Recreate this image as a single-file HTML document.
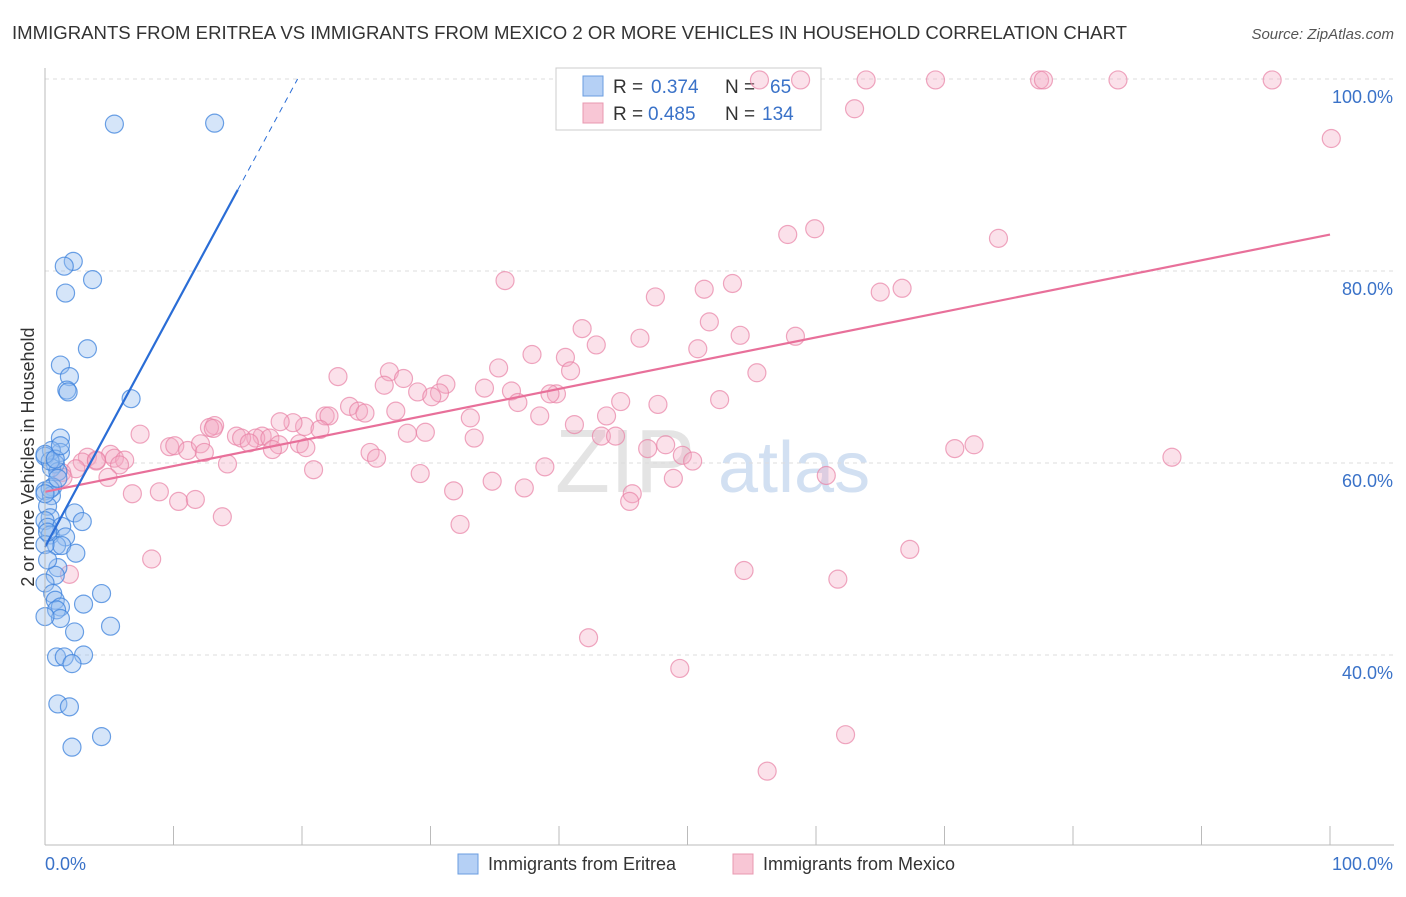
<!DOCTYPE html>
<html><head><meta charset="utf-8"><style>
body{margin:0;background:#fff;font-family:"Liberation Sans",sans-serif;}
svg text{font-family:"Liberation Sans",sans-serif;}
</style></head><body>
<svg id="chart" width="1406" height="892">
<text x="12" y="39" font-size="18.6" fill="#333" textLength="1115" lengthAdjust="spacingAndGlyphs">IMMIGRANTS FROM ERITREA VS IMMIGRANTS FROM MEXICO 2 OR MORE VEHICLES IN HOUSEHOLD CORRELATION CHART</text>
<text x="1394" y="39" font-size="15" fill="#555" font-style="italic" text-anchor="end">Source: ZipAtlas.com</text>
<text x="34" y="457" font-size="18" fill="#333" text-anchor="middle" transform="rotate(-90 34 457)">2 or more Vehicles in Household</text>
<text x="555" y="492" font-size="90" fill="#e4e4e4" font-family="Liberation Serif">ZIP</text>
<text x="718" y="492" font-size="72" fill="#d2e0f2">atlas</text>
<g id="grid"></g>
<g>
<rect x="556" y="68" width="265" height="62" fill="#fff" stroke="#ccc"/>
<rect x="583" y="76" width="20" height="20" fill="#b5d0f5" stroke="#6a9de0"/>
<rect x="583" y="103" width="20" height="20" fill="#f8c6d5" stroke="#e898b0"/>
<text x="613" y="93" font-size="19" fill="#333">R =</text><text x="651" y="93" font-size="19" fill="#3a72c8">0.374</text>
<text x="725" y="93" font-size="19" fill="#333">N =</text><text x="770" y="93" font-size="19" fill="#3a72c8">65</text>
<text x="613" y="120" font-size="19" fill="#333">R =</text><text x="648" y="120" font-size="19" fill="#3a72c8">0.485</text>
<text x="725" y="120" font-size="19" fill="#333">N =</text><text x="762" y="120" font-size="19" fill="#3a72c8">134</text>
</g>
<g id="pts"></g><g id="lines"></g><g id="axes"></g>
<g>
<rect x="458" y="854" width="20" height="20" fill="#b5d0f5" stroke="#6a9de0"/>
<text x="488" y="870" font-size="18" fill="#333">Immigrants from Eritrea</text>
<rect x="733" y="854" width="20" height="20" fill="#f8c6d5" stroke="#e898b0"/>
<text x="763" y="870" font-size="18" fill="#333">Immigrants from Mexico</text>
</g>
</svg>
<script>
const yTicks=[40,60,80,100];
const yTickLabels=["40.0%","60.0%","80.0%","100.0%"];
const xTickLabels=["0.0%","100.0%"];
const eritreaX=[5.4,13.2,2.2,1.5,1.6,3.7,3.3,1.2,1.9,1.7,1.8,6.7,1.2,1.2,0.5,0,0.8,0.5,1,0.6,0,0.5,0.2,0.4,0,2.3,2.9,0.2,1.3,0.4,1.6,0.9,1.3,2.4,1,0.8,0,0.6,0.8,1.2,0.9,1.2,3,4.4,5.1,2.3,0.9,1.5,3,2.1,1,1.9,2.1,4.4,0,0,0.2,0.4,0,0.8,1.2,0.4,0,1,0.2];
const eritreaY=[95.3,95.4,81,80.5,77.7,79.1,71.9,70.2,69,67.6,67.4,66.7,62.6,61.1,61.3,60.7,59.9,59.5,59.1,57.5,57.1,56.6,55.5,54.3,54,54.8,53.9,53.3,53.4,52.5,52.3,51.4,51.4,50.6,49.1,48.3,47.5,46.4,45.7,45,44.7,43.8,45.3,46.4,43,42.4,39.8,39.8,40,39.1,34.9,34.6,30.4,31.5,44,51.5,49.9,60.2,60.9,60.4,61.8,57.3,56.8,58.4,52.8];
const mexicoX=[55.6,58.8,63.9,69.3,77.4,77.7,83.5,95.5,63,100.1,59.9,57.8,74.2,35.8,53.5,51.3,47.5,65,66.7,51.7,41.8,42.9,46.3,54.1,58.4,50.8,37.9,40.5,35.3,40.9,55.4,22.8,26.8,26.4,27.9,31.2,34.2,36.3,39.8,44.8,39.3,30.7,29,30.1,36.8,47.7,52.5,23.7,24.4,24.9,21.8,22.1,33.1,38.5,43.7,27.3,41.2,20.2,19.3,18.3,21.4,16.9,16.4,14.9,15.3,13.2,12.8,13.1,15.9,17.5,18.2,29.6,28.2,7.4,43.3,44.4,19.8,20.3,17.7,9.7,10.1,11.1,12.1,12.4,5.1,5.4,6.2,3.3,4,2.9,4,25.3,25.8,33.4,48.3,49.6,50.4,70.8,72.3,87.7,46.9,14.2,5.8,2.4,1.3,1.4,4.9,20.9,38.9,29.2,34.8,37.3,48.9,60.8,6.8,8.9,10.4,11.7,13.8,31.8,45.7,45.5,32.3,67.3,8.3,54.4,61.7,1.9,42.3,49.4,62.3,56.2];
const mexicoY=[99.9,99.9,99.9,99.9,99.9,99.9,99.9,99.9,96.9,93.8,84.4,83.8,83.4,79,78.7,78.1,77.3,77.8,78.2,74.7,74,72.3,73,73.3,73.2,71.9,71.3,71,69.9,69.6,69.4,69,69.5,68.1,68.8,68.2,67.8,67.5,67.2,66.4,67.2,67.3,67.4,66.9,66.3,66.1,66.6,65.9,65.4,65.2,64.9,64.9,64.7,64.9,64.9,65.4,64,63.8,64.2,64.3,63.5,62.8,62.6,62.8,62.6,63.9,63.7,63.6,62.1,62.6,61.9,63.2,63.1,63,62.8,62.8,62,61.6,61.4,61.7,61.8,61.3,62,61.1,60.9,60.5,60.3,60.6,60.2,60.1,60.3,61.1,60.5,62.6,61.9,60.8,60.2,61.5,61.9,60.6,61.5,59.9,59.8,59.4,59,58.5,58.5,59.3,59.6,58.9,58.1,57.4,58.4,58.7,56.8,57,56,56.2,54.4,57.1,56.8,56,53.6,51,50,48.8,47.9,48.4,41.8,38.6,31.7,27.9];
const eritreaTrend=[51.25,2.48];
const mexicoTrend=[57,0.268];
const X0=45,X1=1330,Y100=79,PXPCT=9.6;
const sx=v=>X0+(X1-X0)*v/100, sy=v=>Y100+(100-v)*PXPCT;
const NS="http://www.w3.org/2000/svg";
function mk(tag,attrs,parent){const e=document.createElementNS(NS,tag);for(const k in attrs)e.setAttribute(k,attrs[k]);parent.appendChild(e);return e;}
const grid=document.getElementById('grid'),axes=document.getElementById('axes'),pts=document.getElementById('pts'),lines=document.getElementById('lines');
yTicks.forEach((t,i)=>{
 const g=mk('line',{x1:X0,x2:1394,y1:sy(t),y2:sy(t),stroke:'#ddd','stroke-dasharray':'4,4'},grid);
 
 
 const tx=mk('text',{x:1393,y:sy(t)+24,'font-size':18,fill:'#3a72c8','text-anchor':'end'},axes);
 tx.textContent=yTickLabels[i];
 
 
});
const yAxis=mk('line',{x1:X0,x2:X0,y1:68,y2:845,stroke:'#bbb'},axes);


const xAxis=mk('line',{x1:X0,x2:1394,y1:845,y2:845,stroke:'#bbb'},axes);


for(let i=1;i<=10;i++){const t=mk('line',{x1:sx(i*10),x2:sx(i*10),y1:826,y2:845,stroke:'#bbb'},axes);
 
 }
const xl0=mk('text',{x:45,y:870,'font-size':18,fill:'#3a72c8'},axes);xl0.textContent=xTickLabels[0];


const xl1=mk('text',{x:1393,y:870,'font-size':18,fill:'#3a72c8','text-anchor':'end'},axes);xl1.textContent=xTickLabels[1];


mexicoX.forEach((x,i)=>{const c=mk('circle',{cx:sx(x),cy:sy(mexicoY[i]),r:9,fill:'rgba(244,170,196,0.35)',stroke:'rgba(232,130,165,0.7)','stroke-width':1.2},pts);
 
 });
eritreaX.forEach((x,i)=>{const c=mk('circle',{cx:sx(x),cy:sy(eritreaY[i]),r:9,fill:'rgba(150,190,240,0.4)',stroke:'rgba(60,130,220,0.75)','stroke-width':1.2},pts);
 
 });
const [ma,mb]=mexicoTrend;
const ml=mk('line',{x1:sx(0),y1:sy(ma),x2:sx(100),y2:sy(ma+mb*100),stroke:'#e8709a','stroke-width':2.2},lines);


const [ea,eb]=eritreaTrend;
const bl=mk('line',{x1:sx(0),y1:sy(ea),x2:sx(15),y2:sy(ea+eb*15),stroke:'#2a6dd6','stroke-width':2.2},lines);


const xe=Math.min(100,(100-ea)/eb);
const bd=mk('line',{x1:sx(15),y1:sy(ea+eb*15),x2:sx(xe),y2:sy(ea+eb*xe),stroke:'#2a6dd6','stroke-width':1,'stroke-dasharray':'6,5'},lines);


</script>
</body></html>
